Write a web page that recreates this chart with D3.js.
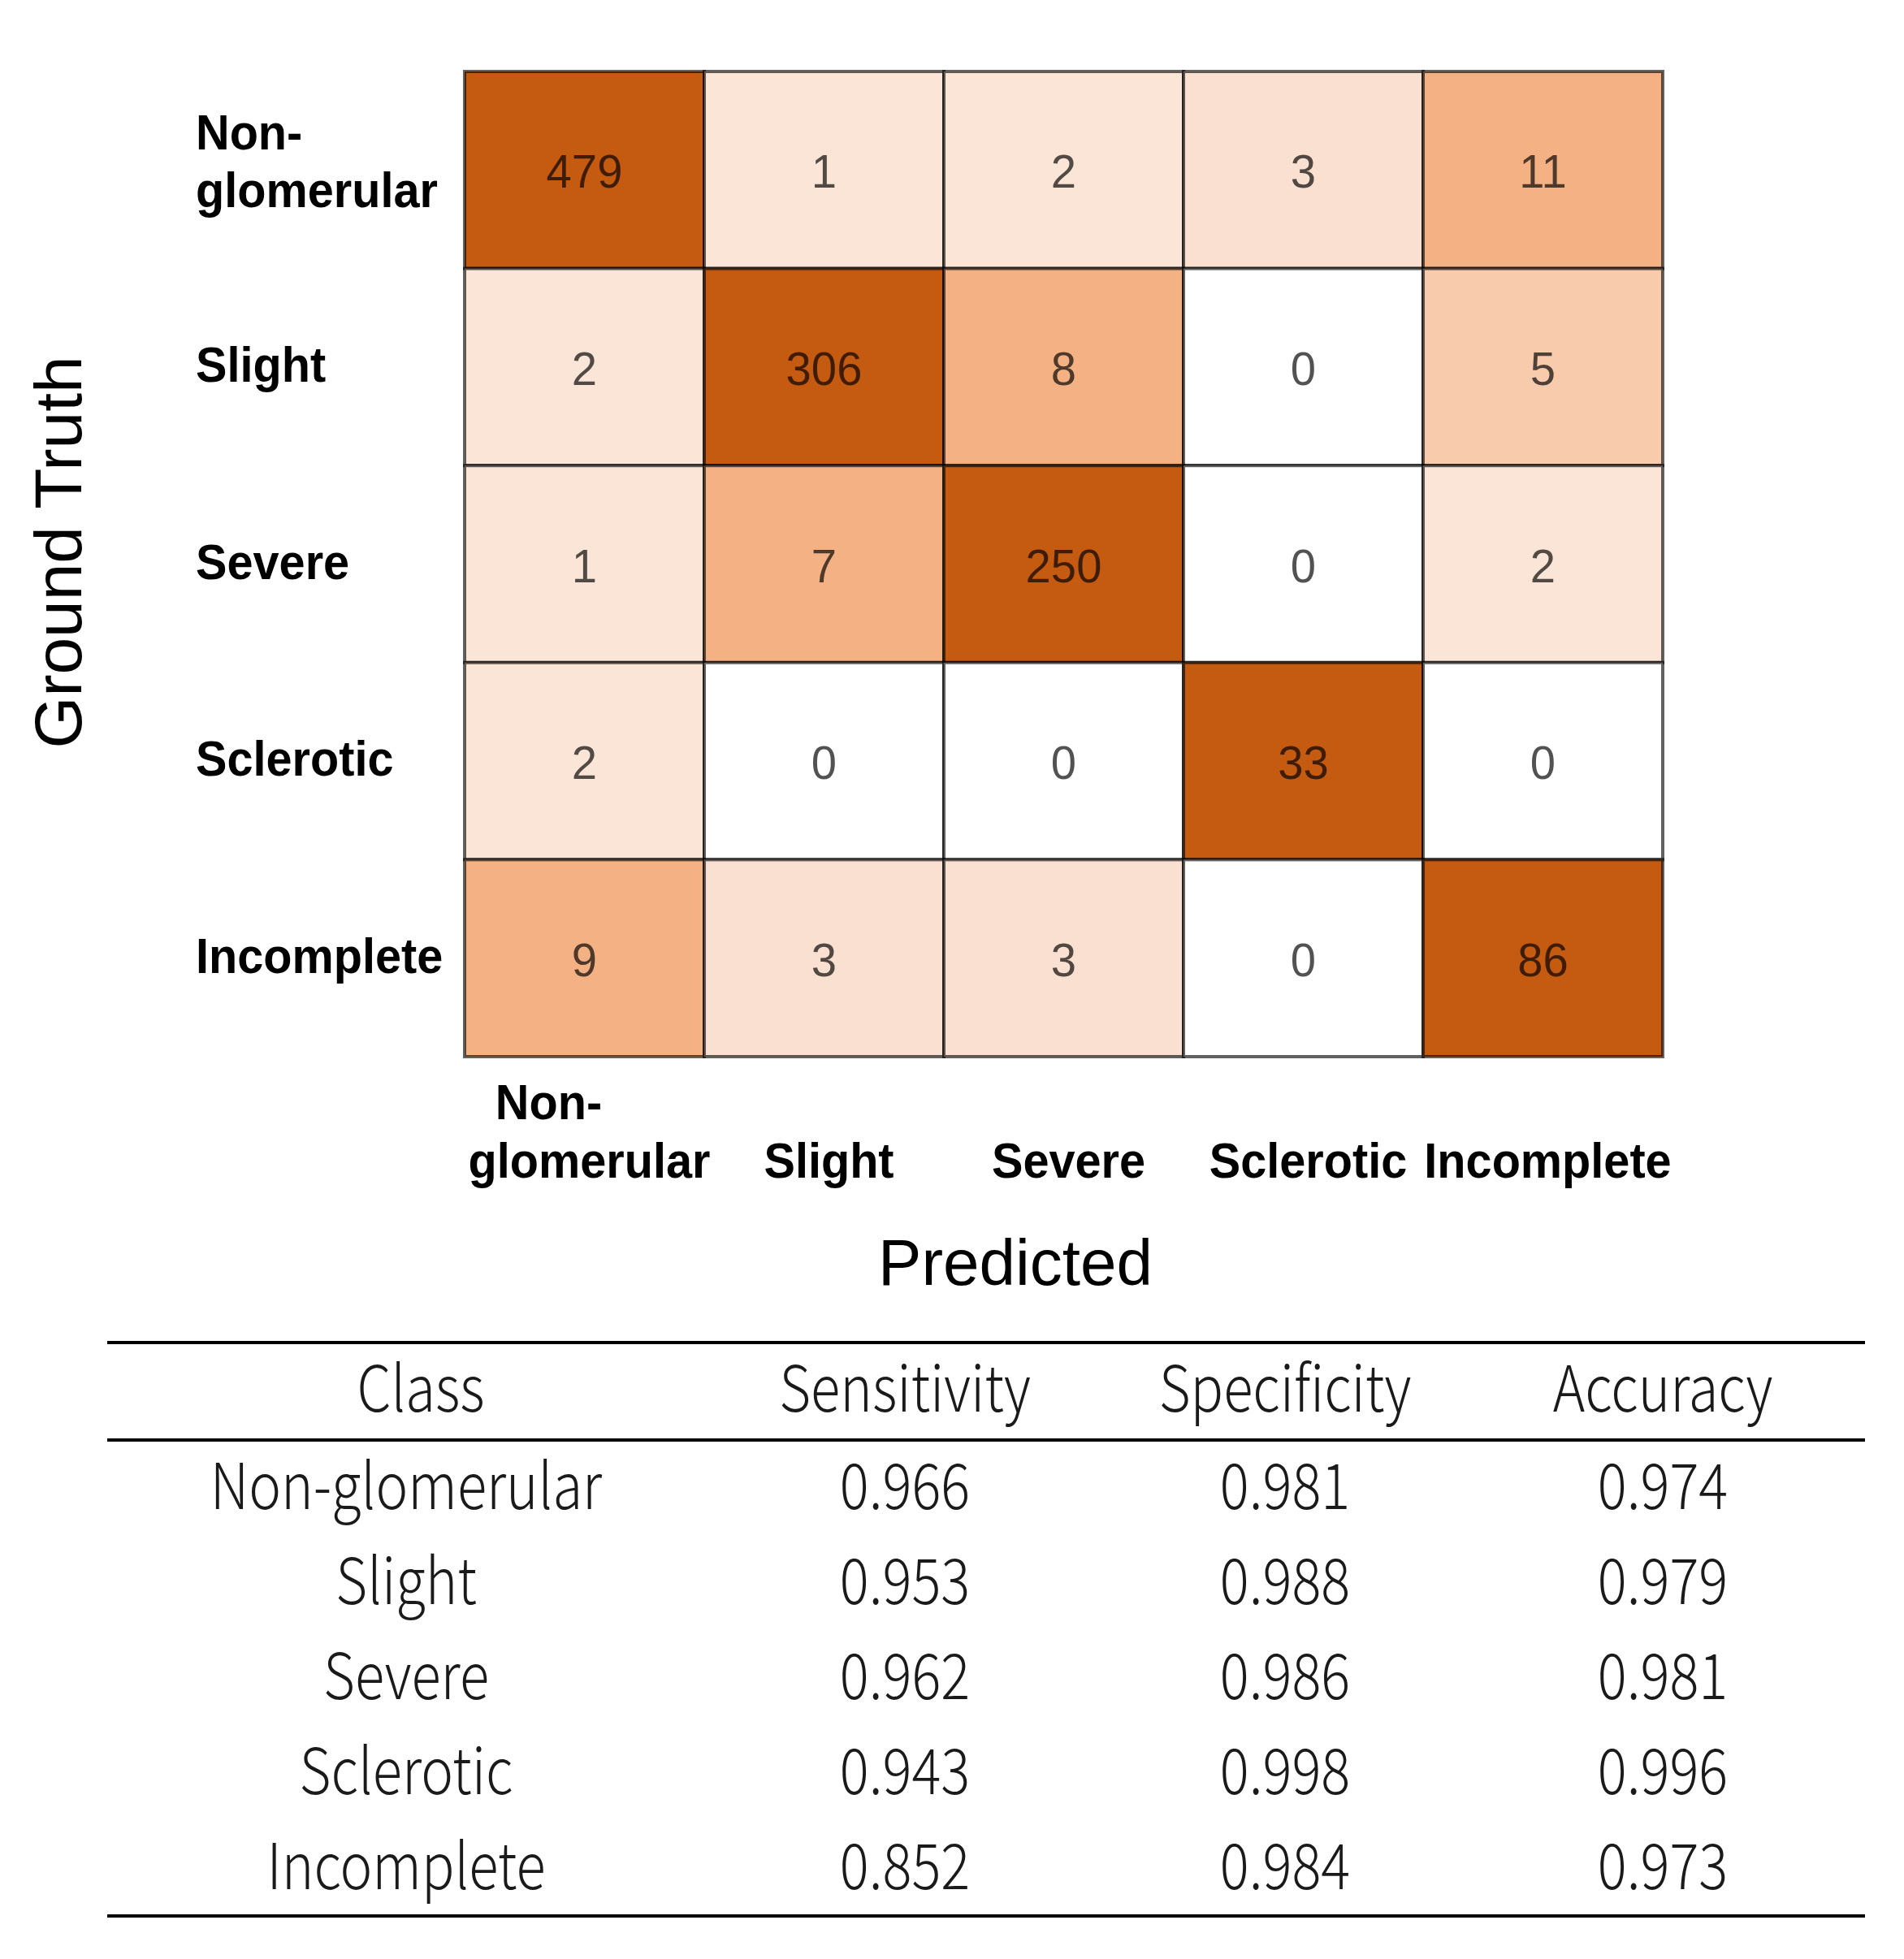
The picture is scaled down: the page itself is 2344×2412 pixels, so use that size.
<!DOCTYPE html>
<html>
<head>
<meta charset="utf-8">
<script src="https://cdn.jsdelivr.net/npm/d3@7"></script>
<style>
  html, body { margin: 0; padding: 0; background: #ffffff; }
  svg { display: block; }
</style>
</head>
<body>
<script>
// ---------------- data ----------------
const classes = ["Non-glomerular", "Slight", "Severe", "Sclerotic", "Incomplete"];
const classLines = [["Non-", "glomerular"], ["Slight"], ["Severe"], ["Sclerotic"], ["Incomplete"]];
// rows = ground truth, columns = predicted
const matrix = [
  [479, 1, 2, 3, 11],
  [2, 306, 8, 0, 5],
  [1, 7, 250, 0, 2],
  [2, 0, 0, 33, 0],
  [9, 3, 3, 0, 86]
];
const colorBreaks = [1, 3, 4, 7, 20];
const colorSteps = ["#ffffff", "#FBE5D6", "#FAE0D0", "#F8CBAD", "#F4B183", "#C55A11"];

const tableHeaders = ["Class", "Sensitivity", "Specificity", "Accuracy"];
const sensitivity = [0.966, 0.953, 0.962, 0.943, 0.852];
const specificity = [0.981, 0.988, 0.986, 0.998, 0.984];
const accuracy = [0.974, 0.979, 0.981, 0.996, 0.973];

const xTitle = "Predicted";
const yTitle = "Ground Truth";

// ---------------- layout ----------------
const W = 2344, H = 2412;
const svg = d3.select("body").append("svg").attr("width", W).attr("height", H);
svg.append("rect").attr("width", W).attr("height", H).attr("fill", "#fff");

const x = d3.scaleBand().domain(classes).range([572, 2047]);
const y = d3.scaleBand().domain(classes).range([88, 1301]);
const color = d3.scaleThreshold().domain(colorBreaks).range(colorSteps);

const SANS = "'Liberation Sans', Arial, sans-serif";

function ctext(g, cx, cy, str, opts) {
  const sx = opts.sx || 1;
  const t = g.append("text")
    .attr("transform", `translate(${cx},${cy}) scale(${sx},1)`)
    .attr("x", 0).attr("y", 0)
    .attr("text-anchor", opts.anchor || "middle")
    .attr("font-family", opts.family || SANS)
    .attr("font-size", opts.size)
    .attr("font-weight", opts.weight || "normal")
    .attr("fill", opts.fill || "#000")
    .text(str);
  if (opts.opacity != null) t.attr("fill-opacity", opts.opacity);
  return t;
}

// ---------------- heatmap ----------------
const cells = [];
matrix.forEach((row, i) => row.forEach((v, j) => cells.push({ r: classes[i], c: classes[j], v })));

const gCells = svg.append("g");
gCells.selectAll("rect").data(cells).join("rect")
  .attr("x", d => x(d.c)).attr("y", d => y(d.r))
  .attr("width", x.bandwidth()).attr("height", y.bandwidth())
  .attr("fill", d => color(d.v))
  .attr("stroke", "#000").attr("stroke-opacity", 0.62).attr("stroke-width", 4);

const gNums = svg.append("g");
cells.forEach(d => {
  ctext(gNums, x(d.c) + x.bandwidth() / 2, y(d.r) + y.bandwidth() / 2 + 22, String(d.v),
    { size: 58, fill: "#000", opacity: 0.68, sx: 0.97 });
});

// row labels (ground truth)
const LBL = 62, LSX = 0.93, LINE = 71, CAP = 0.72 * LBL;
const gRow = svg.append("g");
classLines.forEach((lines, i) => {
  const cy = y(classes[i]) + y.bandwidth() / 2;
  const first = cy - (lines.length - 1) * LINE / 2 + CAP / 2 - (lines.length > 1 ? 12 : 4);
  lines.forEach((ln, k) => {
    ctext(gRow, 241, first + k * LINE, ln, { size: LBL, weight: "bold", anchor: "start", sx: LSX });
  });
});

// column labels (predicted)
const gCol = svg.append("g");
classLines.forEach((lines, j) => {
  const cx = x(classes[j]) + x.bandwidth() / 2;
  const probes = lines.map(ln => ctext(gCol, 0, -1000, ln, { size: LBL, weight: "bold", anchor: "start", sx: LSX }));
  const widths = probes.map(p => p.node().getComputedTextLength() * LSX);
  probes.forEach(p => p.remove());
  const maxW = d3.max(widths);
  const lastBase = 1450;
  lines.forEach((ln, k) => {
    const base = lastBase - (lines.length - 1 - k) * 72;
    const left = cx - maxW / 2 + 6 + (k < lines.length - 1 ? (maxW - widths[k]) * 0.2 : 0);
    ctext(gCol, left, base, ln, { size: LBL, weight: "bold", anchor: "start", sx: LSX });
  });
});

// axis titles
ctext(svg, 1250, 1582, xTitle, { size: 80 });
svg.append("text")
  .attr("transform", "translate(100,680) rotate(-90)")
  .attr("text-anchor", "middle")
  .attr("font-family", SANS).attr("font-size", 82)
  .attr("fill", "#000")
  .text(yTitle);

// ---------------- metrics table ----------------
const TF = "'Noto Sans CJK SC', 'Noto Sans', sans-serif";
const tcol = d3.scaleOrdinal().domain(tableHeaders).range([518, 1114, 1582, 2047]);
const trow = d3.scalePoint().domain(classes).range([1858, 2326]);
const gT = svg.append("g");

[1653, 1773, 2359].forEach(ly => {
  gT.append("line").attr("x1", 132).attr("x2", 2296).attr("y1", ly).attr("y2", ly)
    .attr("stroke", "#000").attr("stroke-width", 4);
});

const TSX = 0.86, TSIZE = 78, TFILL = "#1a1a1a";
tableHeaders.forEach(h => {
  ctext(gT, tcol(h), 1738, h, { family: TF, size: TSIZE, weight: 300, sx: TSX, fill: TFILL });
});
const columns = [classes, sensitivity, specificity, accuracy];
classes.forEach((c, i) => {
  tableHeaders.forEach((h, k) => {
    const v = columns[k][i];
    const s = typeof v === "number" ? d3.format(".3f")(v) : v;
    const cx = k === 0 ? tcol(h) - 18 : tcol(h);
    ctext(gT, cx, trow(c), s, { family: TF, size: TSIZE, weight: 300, sx: TSX, fill: TFILL });
  });
});
</script>
</body>
</html>
